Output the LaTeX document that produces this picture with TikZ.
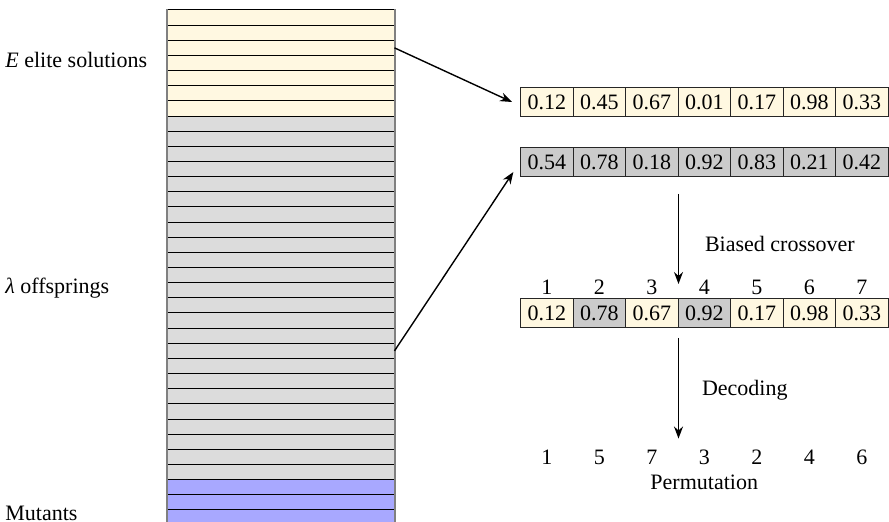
\documentclass[tikz,border=0pt]{standalone}
\usepackage{fontspec}
\setmainfont{Liberation Serif}
\usetikzlibrary{arrows.meta,positioning}
\definecolor{elite}{HTML}{FFF8E1}
\definecolor{offspring}{HTML}{DCDCDC}
\definecolor{mutant}{HTML}{A8A8FF}
\definecolor{cellgray}{HTML}{CBCBCB}
\begin{document}
\begin{tikzpicture}
[
    x=0.5pt, y=-0.5pt,
    font=\fontsize{11}{13}\selectfont,
    row/.style={draw=black, line width=0.5pt, minimum width=113.5pt, minimum height=7.575pt, inner sep=0pt},
    cell/.style={draw=black!85, line width=0.5pt, minimum width=26.25pt, minimum height=14.5pt, inner sep=0pt},
    side/.style={anchor=west, inner sep=0pt},
    flow/.style={-{Stealth[length=6pt,width=4.5pt]}, line width=0.7pt}
]
    \useasboundingbox (0,0) rectangle (889,522);
    % population
    \foreach \i in {1,...,34} {
        \ifnum\i<8 \def\rowfill{elite}\else\ifnum\i<32 \def\rowfill{offspring}\else\def\rowfill{mutant}\fi\fi
        \node [row, fill=\rowfill] (r\i) at (280.5, {10+15.15*(\i-0.5)}) {};
    }
    \draw [gray, line width=1pt] (r1.north west) -- (r34.south west);
    \draw [gray, line width=1pt] (r1.north east) -- (r34.south east);
    \node [side] (lelite) at (5, 60) {\textit{E} elite solutions};
    \node [side] (loff) at (5, 288) {\textit{λ} offsprings};
    \node [side] (lmut) at (5, 513) {Mutants};
    % parents
    \foreach \v [count=\i] in {0.12,0.45,0.67,0.01,0.17,0.98,0.33}
        \node [cell, fill=elite] (e\i) at ({546.75+52.5*(\i-1)}, 102) {\v};
    \foreach \v [count=\i] in {0.54,0.78,0.18,0.92,0.83,0.21,0.42}
        \node [cell, fill=cellgray] (o\i) at ({546.75+52.5*(\i-1)}, 162) {\v};
    % child
    \foreach \v/\f [count=\i] in {0.12/elite,0.78/cellgray,0.67/elite,0.92/cellgray,0.17/elite,0.98/elite,0.33/elite} {
        \node [cell, fill=\f] (c\i) at ({546.75+52.5*(\i-1)}, 313) {\v};
        \node (n\i) at ({546.75+52.5*(\i-1)}, 287) {\i};
    }
    % permutation
    \foreach \p [count=\i] in {1,5,7,3,2,4,6}
        \node (p\i) at ({546.75+52.5*(\i-1)}, 457) {\p};
    \node [below=-2pt of p4] (perm) {Permutation};
    \draw [flow] (r3.east) -- ([xshift=-4pt]e1.west);
    \draw [flow, shorten >=6pt] (r23.east) -- (o1.west);
    \draw [flow] ([yshift=-8.5pt]o3.south east) -- ([yshift=7pt]c3.north east);
    \node [anchor=west] (bc) at (698, 244) {Biased crossover};
    \draw [flow] ([yshift=-5pt]c3.south east) -- ([yshift=2pt]c3.south east |- p4.north);
    \node [anchor=west] (dec) at (695, 390) {Decoding};
\end{tikzpicture}
\end{document}
